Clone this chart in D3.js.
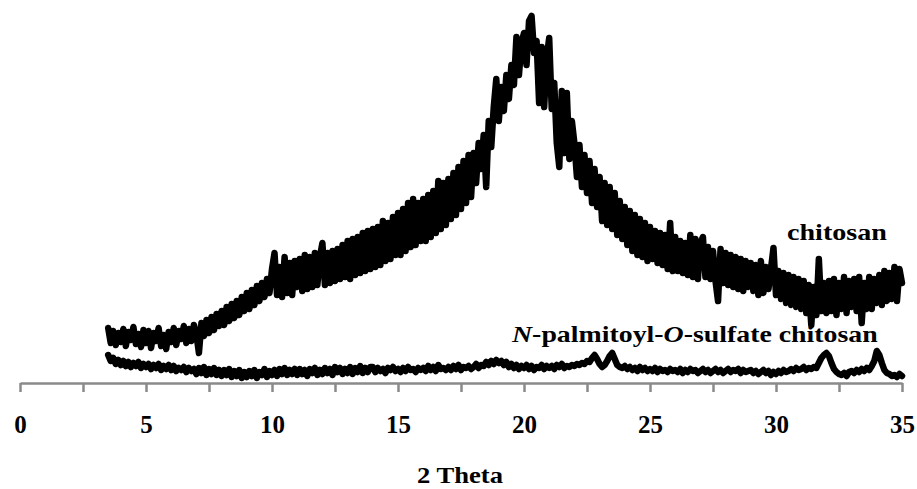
<!DOCTYPE html>
<html>
<head>
<meta charset="utf-8">
<script src="https://cdn.jsdelivr.net/npm/d3@7"></script>
<style>
  html, body { margin: 0; padding: 0; background: #fff; }
  svg { display: block; }
</style>
</head>
<body>
<svg id="chart" width="917" height="489"></svg>
<script>
// ---- Data (intensity in arbitrary units) ----
const twoTheta = [
  3.5,3.6,3.7,3.8,3.9,
  4.0,4.1,4.2,4.3,4.4,4.5,4.6,4.7,4.8,4.9,
  5.0,5.1,5.2,5.3,5.4,5.5,5.6,5.7,5.8,5.9,
  6.0,6.1,6.2,6.3,6.4,6.5,6.6,6.7,6.8,6.9,
  7.0,7.1,7.2,7.3,7.4,7.5,7.6,7.7,7.8,7.9,
  8.0,8.1,8.2,8.3,8.4,8.5,8.6,8.7,8.8,8.9,
  9.0,9.1,9.2,9.3,9.4,9.5,9.6,9.7,9.8,9.9,
  10.0,10.1,10.2,10.3,10.4,10.5,10.6,10.7,10.8,10.9,
  11.0,11.1,11.2,11.3,11.4,11.5,11.6,11.7,11.8,11.9,
  12.0,12.1,12.2,12.3,12.4,12.5,12.6,12.7,12.8,12.9,
  13.0,13.1,13.2,13.3,13.4,13.5,13.6,13.7,13.8,13.9,
  14.0,14.1,14.2,14.3,14.4,14.5,14.6,14.7,14.8,14.9,
  15.0,15.1,15.2,15.3,15.4,15.5,15.6,15.7,15.8,15.9,
  16.0,16.1,16.2,16.3,16.4,16.5,16.6,16.7,16.8,16.9,
  17.0,17.1,17.2,17.3,17.4,17.5,17.6,17.7,17.8,17.9,
  18.0,18.1,18.2,18.3,18.4,18.5,18.6,18.7,18.8,18.9,
  19.0,19.1,19.2,19.3,19.4,19.5,19.6,19.7,19.8,19.9,
  20.0,20.1,20.2,20.3,20.4,20.5,20.6,20.7,20.8,20.9,
  21.0,21.1,21.2,21.3,21.4,21.5,21.6,21.7,21.8,21.9,
  22.0,22.1,22.2,22.3,22.4,22.5,22.6,22.7,22.8,22.9,
  23.0,23.1,23.2,23.3,23.4,23.5,23.6,23.7,23.8,23.9,
  24.0,24.1,24.2,24.3,24.4,24.5,24.6,24.7,24.8,24.9,
  25.0,25.1,25.2,25.3,25.4,25.5,25.6,25.7,25.8,25.9,
  26.0,26.1,26.2,26.3,26.4,26.5,26.6,26.7,26.8,26.9,
  27.0,27.1,27.2,27.3,27.4,27.5,27.6,27.7,27.8,27.9,
  28.0,28.1,28.2,28.3,28.4,28.5,28.6,28.7,28.8,28.9,
  29.0,29.1,29.2,29.3,29.4,29.5,29.6,29.7,29.8,29.9,
  30.0,30.1,30.2,30.3,30.4,30.5,30.6,30.7,30.8,30.9,
  31.0,31.1,31.2,31.3,31.4,31.5,31.6,31.7,31.8,31.9,
  32.0,32.1,32.2,32.3,32.4,32.5,32.6,32.7,32.8,32.9,
  33.0,33.1,33.2,33.3,33.4,33.5,33.6,33.7,33.8,33.9,
  34.0,34.1,34.2,34.3,34.4,34.5,34.6,34.7,34.8,34.9,
  35.0
];

const chitosan = [
  55,40,52,38,50,
  41,54,37,51,43,56,39,49,36,53,
  40,52,35,50,42,55,37,48,34,51,
  41,55,38,52,44,57,40,54,42,58,
  49,30,60,47,63,50,66,53,69,57,
  72,58,76,62,79,65,82,68,86,72,
  90,74,93,78,97,82,100,86,104,90,
  114,130,88,116,86,126,90,120,88,122,
  96,124,92,128,94,126,96,130,98,126,
  140,98,130,100,132,102,134,104,138,106,
  142,104,144,108,146,110,150,112,152,114,
  154,116,156,118,162,122,160,124,166,128,
  170,128,174,132,180,136,184,138,180,142,
  184,142,188,146,192,150,202,154,200,158,
  204,164,210,168,216,174,222,180,228,186,
  230,200,240,214,248,196,262,236,276,304,
  262,296,272,308,284,318,298,346,308,340,
  350,318,362,367,330,342,280,336,276,325,
  345,274,300,240,216,292,230,290,224,262,
  240,206,238,196,228,190,222,180,214,176,
  206,162,200,158,196,154,190,148,182,144,
  176,138,172,132,168,128,164,126,160,122,
  156,124,152,120,150,118,148,114,160,112,
  146,112,142,110,140,108,148,106,144,104,
  140,146,106,136,104,132,102,82,134,100,
  130,98,128,96,126,94,124,92,122,96,
  120,92,118,88,122,90,116,94,114,135,
  88,112,84,110,80,108,78,106,76,104,
  74,102,70,98,58,96,68,124,72,100,
  70,102,72,104,68,100,74,106,70,102,
  76,104,72,106,60,100,74,106,74,104,
  80,108,78,112,82,110,84,116,82,114,
  100
];

const sulfateChitosan = [
  28,22,25,19,23,
  18,22,17,21,16,20,17,21,15,19,
  16,19,14,18,15,19,13,17,14,18,
  13,17,12,15,13,16,11,15,12,14,
  9,15,10,16,8,14,9,15,8,13,
  7,13,8,14,6,12,7,13,5,11,
  6,12,7,13,5,11,8,14,6,12,
  8,13,7,14,9,15,8,13,9,14,
  8,14,9,13,7,14,10,15,8,13,
  9,15,10,14,8,16,11,15,9,14,
  10,16,9,15,11,17,10,15,11,16,
  16,11,15,12,14,10,15,13,16,12,
  14,11,15,12,16,13,14,11,15,13,
  15,12,17,13,16,12,18,14,15,13,
  16,13,17,14,18,13,16,15,17,14,
  16,19,15,18,17,21,18,22,19,23,
  20,22,18,21,16,19,15,18,14,17,
  15,18,14,17,13,16,15,18,14,17,
  15,17,14,18,16,19,15,17,16,18,
  17,19,18,20,19,22,21,25,28,24,
  19,16,18,22,27,30,24,18,16,15,
  17,14,16,13,15,12,16,13,15,12,
  14,12,15,11,14,12,13,11,14,12,
  13,11,14,10,13,11,14,12,13,10,
  12,14,11,13,10,12,14,11,13,10,
  12,14,11,13,12,14,10,13,11,12,
  13,10,12,9,11,13,10,12,8,11,
  9,12,10,13,11,12,14,12,15,13,
  14,16,13,15,14,16,15,20,25,28,
  30,27,20,14,11,9,8,10,7,11,
  12,10,13,11,14,12,15,13,17,22,
  32,28,20,13,10,9,7,8,6,9,
  7
];

const xTicks = [0, 2.5, 5, 7.5, 10, 12.5, 15, 17.5, 20, 22.5, 25, 27.5, 30, 32.5, 35];
const xTickLabels = ["0", "", "5", "", "10", "", "15", "", "20", "", "25", "", "30", "", "35"];
const xTitle = "2 Theta";
const seriesLabelA = "chitosan";
const seriesLabelB = [
  { t: "N", italic: true },
  { t: "-palmitoyl-", italic: false },
  { t: "O", italic: true },
  { t: "-sulfate chitosan", italic: false }
];

// ---- Drawing ----
const svg = d3.select("#chart");
const serif = "'Liberation Serif', 'Times New Roman', 'DejaVu Serif', serif";

const x = d3.scaleLinear().domain([0, 35]).range([20, 902]);
const y = d3.scaleLinear().domain([0, 370]).range([383, 13]);

const line = d3.line()
  .x((d, i) => x(twoTheta[i]))
  .y(d => y(d));

// Axis
const axis = d3.axisBottom(x)
  .tickValues(xTicks)
  .tickSize(9)
  .tickSizeOuter(0)
  .tickFormat((d, i) => xTickLabels[i]);

const gAxis = svg.append("g")
  .attr("transform", `translate(0,${y(0)})`)
  .call(axis);

gAxis.select(".domain")
  .attr("stroke", "#8a8a8a")
  .attr("stroke-width", 2.5);
gAxis.selectAll(".tick line")
  .attr("stroke", "#8a8a8a")
  .attr("stroke-width", 2.5);
gAxis.selectAll(".tick text")
  .attr("y", 50)
  .attr("dy", 0)
  .attr("fill", "#000")
  .style("font-family", serif)
  .style("font-weight", "bold")
  .style("font-size", "25px");

// Series lines
svg.append("path")
  .datum(sulfateChitosan)
  .attr("fill", "none")
  .attr("stroke", "#000")
  .attr("stroke-width", 6.5)
  .attr("stroke-linejoin", "round")
  .attr("stroke-linecap", "round")
  .attr("d", line);

svg.append("path")
  .datum(chitosan)
  .attr("fill", "none")
  .attr("stroke", "#000")
  .attr("stroke-width", 6.5)
  .attr("stroke-linejoin", "round")
  .attr("stroke-linecap", "round")
  .attr("d", line);

// Helper to stretch text to a target width
function fitText(sel, tx, ty, targetW, anchor) {
  const w = sel.node().getComputedTextLength();
  const s = targetW / w;
  const dx = anchor === "middle" ? -targetW / 2 : 0;
  sel.attr("transform", `translate(${tx + dx},${ty}) scale(${s},1)`);
}

// Series labels
const labA = svg.append("text")
  .attr("x", 0).attr("y", 0)
  .style("font-family", serif)
  .style("font-weight", "bold")
  .style("font-size", "24px")
  .attr("fill", "#000")
  .text(seriesLabelA);
fitText(labA, 787, 240, 100);

const labB = svg.append("text")
  .attr("x", 0).attr("y", 0)
  .style("font-family", serif)
  .style("font-weight", "bold")
  .style("font-size", "24px")
  .attr("fill", "#000");
labB.selectAll("tspan")
  .data(seriesLabelB)
  .enter().append("tspan")
  .style("font-style", d => d.italic ? "italic" : "normal")
  .text(d => d.t);
fitText(labB, 512, 342, 366);

// Axis title
const title = svg.append("text")
  .attr("x", 0).attr("y", 0)
  .style("font-family", serif)
  .style("font-weight", "bold")
  .style("font-size", "23px")
  .attr("fill", "#000")
  .text(xTitle);
fitText(title, 460, 483, 86, "middle");
</script>
</body>
</html>
